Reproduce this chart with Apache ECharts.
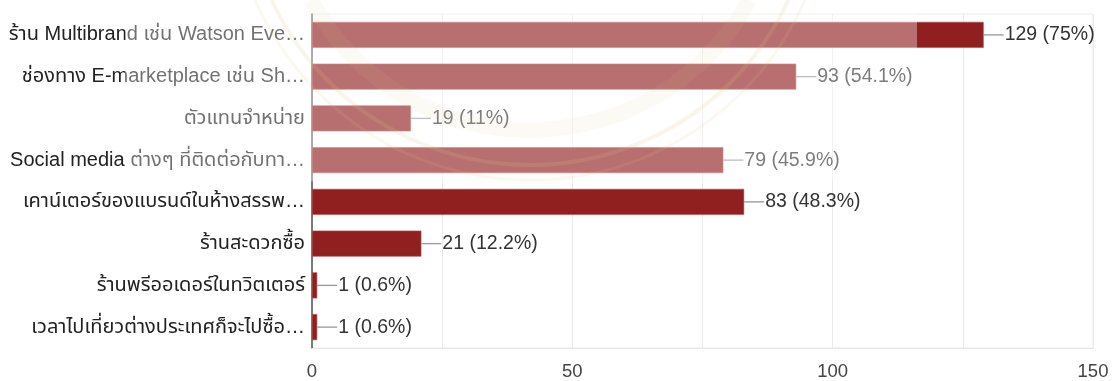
<!DOCTYPE html>
<html>
<head>
<meta charset="utf-8">
<script src="https://cdn.jsdelivr.net/npm/echarts@6/dist/echarts.min.js"></script>
<style>
  html, body { margin: 0; padding: 0; background: #ffffff; }
  #chart { width: 1113px; height: 381px; }
</style>
</head>
<body>
<div id="chart"></div>
<script>
// Where respondents buy the product (multiple answers allowed)
const categories = [
  'ร้าน Multibrand เช่น Watson Eve…',
  'ช่องทาง E-marketplace เช่น Sh…',
  'ตัวแทนจำหน่าย',
  'Social media ต่างๆ ที่ติดต่อกับทา…',
  'เคาน์เตอร์ของแบรนด์ในห้างสรรพ…',
  'ร้านสะดวกซื้อ',
  'ร้านพรีออเดอร์ในทวิตเตอร์',
  'เวลาไปเที่ยวต่างประเทศก็จะไปซื้อ…'
];
const counts = [129, 93, 19, 79, 83, 21, 1, 1];
const percents = ['75', '54.1', '11', '45.9', '48.3', '12.2', '0.6', '0.6'];
const xTicks = [0, 50, 100, 150];

const FONT = "'Liberation Sans', Arial, 'Noto Sans', 'Noto Sans Thai', sans-serif";
const BAR = '#901f20';

const chart = echarts.init(document.getElementById('chart'), null, { renderer: 'canvas' });

// faint seal ring segment inside the watermark area
function ring(r, w, op) {
  const cx = 530, cy = -120;
  const a0 = Math.atan2(120, Math.sqrt(r * r - 120 * 120));
  return {
    type: 'arc',
    shape: { cx: cx, cy: cy, r: r, startAngle: a0, endAngle: Math.PI - a0, clockwise: true },
    style: { stroke: '#c9a43a', lineWidth: w, fill: null, opacity: op },
    silent: true,
    z: 99
  };
}

chart.setOption({
  animation: false,
  backgroundColor: '#ffffff',
  grid: {
    left: 312, right: 20, top: 14, bottom: 31,
    show: true, borderColor: '#ebebeb', borderWidth: 1
  },
  xAxis: {
    type: 'value',
    min: 0, max: 150, interval: 25,
    axisLine: { show: true, lineStyle: { color: '#e6e6e6', width: 1 } },
    axisTick: { show: false },
    splitLine: { show: true, lineStyle: { color: '#ebebeb', width: 1 } },
    axisLabel: {
      margin: 14,
      fontFamily: FONT, fontSize: 18.5, color: '#444',
      formatter: v => (xTicks.indexOf(v) >= 0 ? String(v) : '')
    }
  },
  yAxis: {
    type: 'category',
    inverse: true,
    data: categories,
    axisLine: { show: true, lineStyle: { color: '#555', width: 1.5 } },
    axisTick: { show: false },
    axisLabel: {
      margin: 7,
      fontFamily: FONT, fontSize: 20, color: '#222'
    }
  },
  series: [{
    type: 'bar',
    data: counts,
    barWidth: 26,
    itemStyle: { color: BAR, borderColor: '#b04a4a', borderWidth: 0.6 },
    label: {
      show: true,
      position: 'right',
      distance: 0,
      formatter: p => '{l|}{t|' + counts[p.dataIndex] + ' (' + percents[p.dataIndex] + '%)}',
      rich: {
        l: { width: 20, height: 1.4, backgroundColor: '#9e9e9e', verticalAlign: 'middle' },
        t: { fontFamily: FONT, fontSize: 19.5, color: '#333', verticalAlign: 'middle', padding: [0, 0, 0, 1] }
      }
    }
  }],
  graphic: [
    ring(250, 16, 0.08),
    ring(285, 4, 0.16),
    ring(300, 3, 0.12),
    {
      type: 'rect',
      shape: { x: 125, y: 0, width: 792, height: 181 },
      style: { fill: 'rgba(255,255,255,0.36)' },
      silent: true,
      z: 100
    }
  ]
});
</script>
</body>
</html>
